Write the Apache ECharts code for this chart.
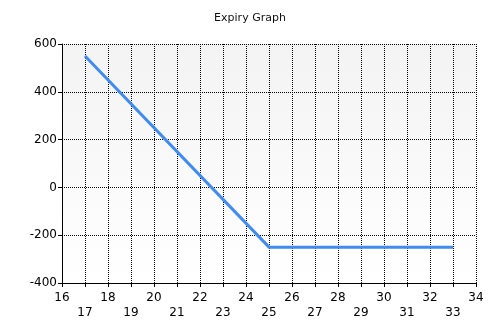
<!DOCTYPE html>
<html><head><meta charset="utf-8">
<script src="https://cdn.jsdelivr.net/npm/echarts@6/dist/echarts.min.js"></script>
<style>html,body{margin:0;padding:0;background:#fff}#c{width:500px;height:333px}</style>
</head><body><div id="c"></div>
<script>
var titleText = 'Expiry Graph';
var xValues = [17, 25, 33];
var yValues = [550, -250, -250];
var xMin = 16, xMax = 34, xStep = 1;
var yMin = -400, yMax = 600, yStep = 200;

var chart = echarts.init(document.getElementById('c'), null, {renderer: 'canvas'});
var data = xValues.map(function (x, i) { return [x, yValues[i]]; });
chart.setOption({
  animation: false,
  title: {text: titleText, left: 'center', top: 8,
    textStyle: {fontFamily: 'DejaVu Sans', fontSize: 11, fontWeight: 'normal', color: '#111'}},
  grid: {left: 62, right: 24, top: 44, bottom: 50, show: true, borderWidth: 0,
    backgroundColor: new echarts.graphic.LinearGradient(0, 0, 0, 1, [
      {offset: 0, color: '#f3f3f3'}, {offset: 1, color: '#ffffff'}])},
  xAxis: {type: 'value', min: xMin, max: xMax, interval: xStep,
    axisLine: {show: true, onZero: false, lineStyle: {color: '#000', width: 1}},
    axisTick: {show: true, length: 4, lineStyle: {color: '#000'}},
    axisLabel: {fontFamily: 'DejaVu Sans', fontSize: 12, color: '#000', margin: 7, lineHeight: 15,
      formatter: function (v) { return (v % 2 === 0) ? String(v) : '\n' + v; }},
    splitLine: {show: true, lineStyle: {color: '#000', type: [1, 1], width: 1}}
  },
  yAxis: {type: 'value', min: yMin, max: yMax, interval: yStep,
    axisLine: {show: true, onZero: false, lineStyle: {color: '#000', width: 1}},
    axisTick: {show: true, length: 4, lineStyle: {color: '#000'}},
    axisLabel: {fontFamily: 'DejaVu Sans', fontSize: 12, color: '#000', margin: 5},
    splitLine: {show: true, lineStyle: {color: '#000', type: [1, 1], width: 1}}
  },
  series: [{type: 'line', data: data, symbol: 'none',
    lineStyle: {color: '#418cf0', width: 3}}]
});
</script></body></html>
